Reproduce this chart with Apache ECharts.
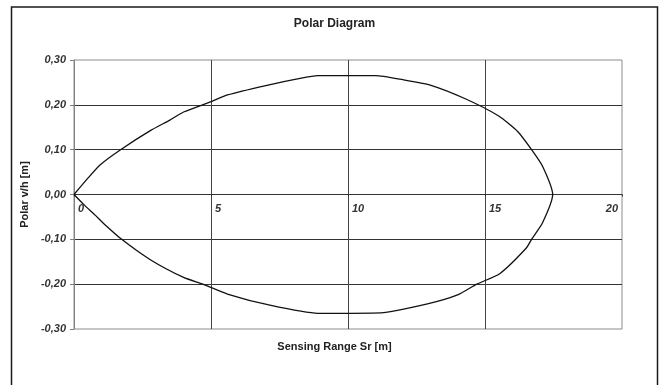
<!DOCTYPE html>
<html>
<head>
<meta charset="utf-8">
<script src="https://cdn.jsdelivr.net/npm/echarts@6/dist/echarts.min.js"></script>
<style>
html,body{margin:0;padding:0;background:#fff;}
#chart{width:669px;height:385px;}
</style>
</head>
<body>
<div id="chart"></div>
<script>
// Data
var upperX = [0, 0.5, 0.95, 1.7, 2.8, 3.5, 4.0, 5.0, 5.6, 7.0, 8.25, 8.9, 11.0, 12.0, 13.0, 14.3, 15.5, 16.2, 16.7, 17.1, 17.47];
var upperY = [0, 0.036, 0.066, 0.100, 0.143, 0.166, 0.184, 0.207, 0.222, 0.243, 0.259, 0.265, 0.265, 0.256, 0.244, 0.213, 0.175, 0.140, 0.100, 0.063, 0];
var lowerX = [17.1, 16.7, 16.5, 15.55, 14.7, 14.0, 12.9, 11.2, 8.9, 7.15, 5.6, 4.7, 4.0, 2.8, 1.74, 1.07, 0.77, 0.35, 0];
var lowerY = [-0.063, -0.100, -0.120, -0.176, -0.200, -0.224, -0.244, -0.264, -0.265, -0.247, -0.222, -0.200, -0.185, -0.146, -0.100, -0.064, -0.046, -0.022, 0];
var xTickLabels = ['0', '5', '10', '15', '20'];
var yTickLabels = ['-0,30', '-0,20', '-0,10', '0,00', '0,10', '0,20', '0,30'];
var titleText = 'Polar Diagram';
var xAxisTitle = 'Sensing Range Sr [m]';
var yAxisTitle = 'Polar v/h [m]';

var curve = [];
for (var i = 0; i < upperX.length; i++) curve.push([upperX[i], upperY[i]]);
for (var j = 0; j < lowerX.length; j++) curve.push([lowerX[j], lowerY[j]]);

var FONT = '"Liberation Sans", Arial, sans-serif';
var chart = echarts.init(document.getElementById('chart'), null, {renderer: 'canvas'});
chart.setOption({
  animation: false,
  backgroundColor: '#fff',
  title: {
    text: titleText,
    left: 'center',
    top: 13,
    textStyle: {fontFamily: FONT, fontSize: 12, fontWeight: 'bold', color: '#222'}
  },
  grid: {left: 74, right: 47, top: 60, bottom: 56, show: true, borderColor: '#8c8c8c', borderWidth: 1, backgroundColor: 'transparent'},
  xAxis: {
    type: 'value', min: 0, max: 20, interval: 5,
    position: 'bottom', offset: -134.5,
    axisLine: {onZero: false, lineStyle: {color: '#333', width: 1}},
    axisTick: {show: true, length: 2, lineStyle: {color: '#333'}},
    axisLabel: {
      margin: 9, align: 'left', alignMaxLabel: 'right', padding: [0, 4, 0, 4],
      fontFamily: FONT, fontSize: 11, fontWeight: 'bold', fontStyle: 'italic', color: '#333',
      formatter: function (v, idx) { return xTickLabels[idx]; }
    },
    splitLine: {show: true, showMinLine: false, showMaxLine: false, lineStyle: {color: '#444', width: 1}}
  },
  yAxis: {
    type: 'value', min: -0.3, max: 0.3, interval: 0.1,
    name: yAxisTitle, nameLocation: 'middle', nameGap: 44, nameRotate: 90,
    nameTextStyle: {fontFamily: FONT, fontSize: 11, fontWeight: 'bold', color: '#222'},
    axisLine: {show: true, lineStyle: {color: '#808080', width: 1}},
    axisTick: {show: true, inside: false, length: 4, lineStyle: {color: '#808080'}},
    axisLabel: {
      margin: 8,
      fontFamily: FONT, fontSize: 11, fontWeight: 'bold', fontStyle: 'italic', color: '#333',
      formatter: function (v, idx) { return yTickLabels[idx]; }
    },
    splitLine: {show: true, showMinLine: false, showMaxLine: false, lineStyle: {color: '#333', width: 1}}
  },
  graphic: [
    {type: 'rect', shape: {x: 11.5, y: 7, width: 646, height: 400}, style: {fill: 'none', stroke: '#1a1a1a', lineWidth: 1.5}, silent: true},
    {type: 'text', left: 'center', top: 341, style: {text: xAxisTitle, font: 'bold 11px "Liberation Sans", Arial, sans-serif', fill: '#222'}}
  ],
  series: [{
    type: 'line',
    data: curve,
    showSymbol: false,
    smooth: 0.2,
    lineStyle: {color: '#111', width: 1.3},
    clip: false
  }]
});
</script>
</body>
</html>
